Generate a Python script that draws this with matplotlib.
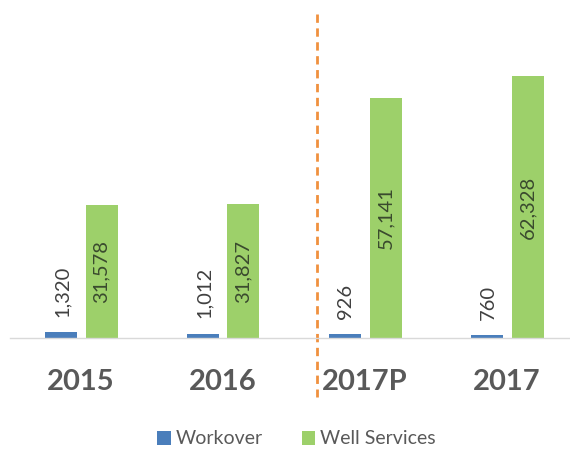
import matplotlib.pyplot as plt
import numpy as np

categories = ['2015', '2016', '2017P', '2017']
workover = [1320, 1012, 926, 760]
well_services = [31578, 31827, 57141, 62328]

blue = '#4A7EBB'
green = '#9DD06A'
gray = '#595959'

plt.rcParams['font.family'] = ['Lato', 'DejaVu Sans']

fig = plt.figure(figsize=(5.7, 4.49), dpi=100)
ax = fig.add_axes([10 / 570, 111 / 449, 560 / 570, 328 / 449])

x = np.arange(len(categories))
w = 32 / 142
gap = 9 / 142
bx = x - (w + gap) / 2
gx = x + (w + gap) / 2

ax.bar(bx, workover, width=w, color=blue, label='Workover')
ax.bar(gx, well_services, width=w, color=green, label='Well Services')

ax.set_xlim(-0.5, 3.5 - 8 / 142)
ax.set_ylim(0, 78000)

# labels for the small bars sit above, the big ones inside
for xi, v in zip(bx, workover):
    ax.annotate(f'{v:,}', (xi, v), xytext=(1, 11), textcoords='offset points',
                rotation=90, ha='center', va='bottom', fontsize=14.5, color='#404040')
for xi, v in zip(gx, well_services):
    ax.text(xi, v / 2, f'{v:,}', rotation=90, ha='center', va='center',
            fontsize=14.5, color='#3A4A2E')

for s in ['top', 'right', 'left']:
    ax.spines[s].set_visible(False)
ax.spines['bottom'].set_color('#D9D9D9')
ax.spines['bottom'].set_linewidth(1)
ax.set_yticks([])
ax.set_xticks(x)
ax.set_xticklabels(categories, fontsize=21, fontweight='bold', color=gray)
ax.tick_params(axis='x', length=0, pad=22)

# dashed separator between actual and projection
ax.plot([1.66, 1.66], [77000, -14000], linestyle=(0, (3, 2)), color='#F0913E',
        linewidth=2, clip_on=False)

leg = fig.legend(loc='center', bbox_to_anchor=(0.52, 10 / 449), ncol=2,
                 frameon=False, fontsize=14, handlelength=0.7, handleheight=0.7,
                 handletextpad=0.25, columnspacing=2.0)
for t in leg.get_texts():
    t.set_color(gray)

fig.savefig('out.png', dpi=100)
